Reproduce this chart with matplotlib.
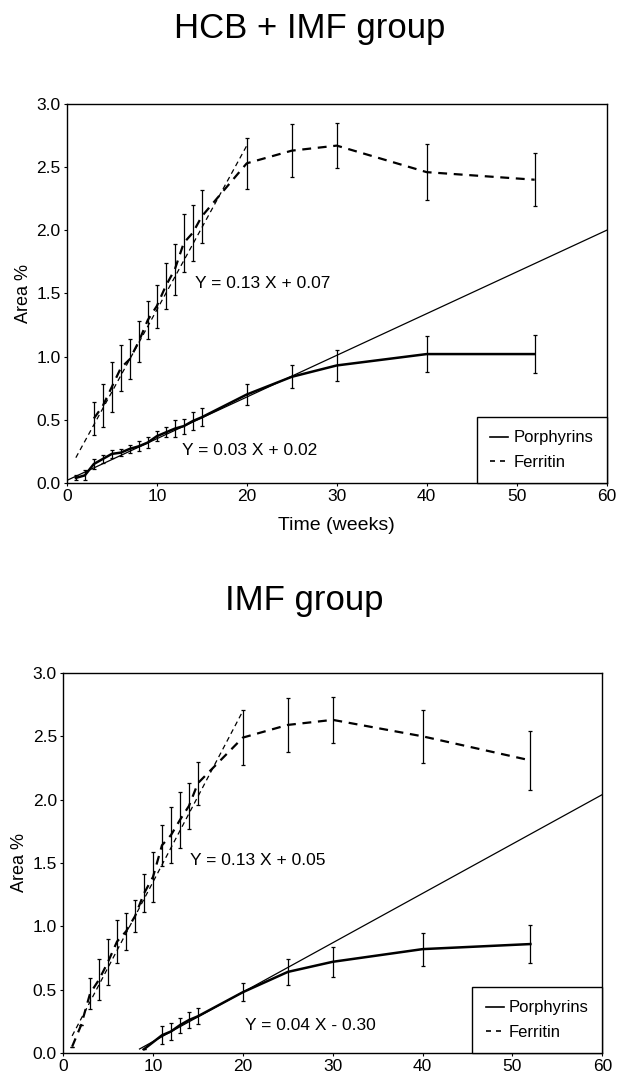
import numpy as np
import matplotlib
matplotlib.use("Agg")
import matplotlib.pyplot as plt
from matplotlib.lines import Line2D

plt.rcParams['font.family'] = ['Liberation Sans', 'DejaVu Sans']

# HCB + IMF group
hcb_fer_weeks = [3, 4, 5, 6, 7, 8, 9, 10, 11, 12, 13, 14, 15, 20, 25, 30, 40, 52]
hcb_fer_vals = [0.51, 0.61, 0.76, 0.91, 0.98, 1.12, 1.29, 1.40, 1.56, 1.69, 1.90, 1.98, 2.11, 2.53, 2.63, 2.67, 2.46, 2.40]
hcb_fer_err = [0.13, 0.17, 0.20, 0.18, 0.16, 0.16, 0.15, 0.17, 0.18, 0.20, 0.23, 0.22, 0.21, 0.20, 0.21, 0.18, 0.22, 0.21]
hcb_por_weeks = [1, 2, 3, 4, 5, 6, 7, 8, 9, 10, 11, 12, 13, 14, 15, 20, 25, 30, 40, 52]
hcb_por_vals = [0.04, 0.06, 0.15, 0.19, 0.23, 0.24, 0.27, 0.29, 0.32, 0.37, 0.40, 0.43, 0.45, 0.49, 0.52, 0.70, 0.84, 0.93, 1.02, 1.02]
hcb_por_err = [0.02, 0.04, 0.04, 0.03, 0.03, 0.03, 0.03, 0.04, 0.04, 0.04, 0.04, 0.07, 0.06, 0.07, 0.07, 0.08, 0.09, 0.12, 0.14, 0.15]
hcb_fer_fit = (0.13, 0.07, 1, 20)     # slope, intercept, x from, x to
hcb_por_fit = (0.033, 0.02, 0, 60)

# IMF group
imf_fer_weeks = [1, 2, 3, 4, 5, 6, 7, 8, 9, 10, 11, 12, 13, 14, 15, 20, 25, 30, 40, 52]
imf_fer_vals = [0.05, 0.22, 0.47, 0.58, 0.72, 0.88, 0.96, 1.08, 1.26, 1.39, 1.64, 1.72, 1.84, 1.95, 2.13, 2.49, 2.59, 2.63, 2.50, 2.31]
imf_fer_err = [0, 0, 0.125, 0.16, 0.18, 0.17, 0.145, 0.125, 0.15, 0.20, 0.16, 0.22, 0.22, 0.18, 0.17, 0.22, 0.21, 0.18, 0.21, 0.23]
imf_por_weeks = [9, 11, 12, 13, 14, 15, 20, 25, 30, 40, 52]
imf_por_vals = [0.03, 0.14, 0.17, 0.22, 0.26, 0.29, 0.48, 0.64, 0.72, 0.82, 0.86]
imf_por_err = [0, 0.07, 0.065, 0.06, 0.065, 0.065, 0.07, 0.10, 0.12, 0.13, 0.15]
imf_fer_fit = (0.135, 0.0, 1, 20)
imf_por_fit = (0.039, -0.30, 8.5, 60)

y_ticks = [0.0, 0.5, 1.0, 1.5, 2.0, 2.5, 3.0]
x_ticks = [0, 10, 20, 30, 40, 50, 60]

DASH = (0, (4, 3))


def draw_panel(ax, fer, por, fer_fit, por_fit, eq_fer, eq_por):
    fw, fv, fe = fer
    pw, pv, pe = por
    # regression lines (thin)
    x = np.array([fer_fit[2], fer_fit[3]])
    ax.plot(x, fer_fit[0] * x + fer_fit[1], color='black', lw=0.9, ls=DASH)
    x = np.array([por_fit[2], por_fit[3]])
    ax.plot(x, por_fit[0] * x + por_fit[1], color='black', lw=0.9)
    # data lines with error bars
    ax.errorbar(pw, pv, yerr=pe, color='black', lw=1.8, elinewidth=0.9,
                capsize=1.5, capthick=0.9)
    ax.errorbar(fw, fv, yerr=fe, color='black', lw=1.6, ls=DASH,
                elinewidth=0.9, capsize=1.5, capthick=0.9)
    ax.text(eq_fer[1][0], eq_fer[1][1], eq_fer[0], fontsize=12.5, va='center')
    ax.text(eq_por[1][0], eq_por[1][1], eq_por[0], fontsize=12.5, va='center')

    ax.set_xlim(0, 60)
    ax.set_ylim(0, 3)
    ax.set_xticks(x_ticks)
    ax.set_yticks(y_ticks)
    ax.set_yticklabels([f'{v:.1f}' for v in y_ticks])
    ax.tick_params(labelsize=12.5, length=2, width=0.8, pad=2.5)
    ax.set_ylabel('Area %', fontsize=13, labelpad=3)
    for s in ax.spines.values():
        s.set_linewidth(1.0)

    handles = [Line2D([], [], color='black', lw=1.2),
               Line2D([], [], color='black', lw=1.2, ls=(0, (3, 3)))]
    leg = ax.legend(handles, ['Porphyrins', 'Ferritin'], loc='lower right',
                    fontsize=12, handlelength=1.1, handletextpad=0.3,
                    fancybox=False, edgecolor='black', borderpad=0.8,
                    labelspacing=0.55, borderaxespad=0, framealpha=1)
    leg.get_frame().set_linewidth(1.0)


fig = plt.figure(figsize=(6.19, 10.78), dpi=100)

ax1 = fig.add_axes([0.108, 0.552, 0.872, 0.3516])
draw_panel(ax1, (hcb_fer_weeks, hcb_fer_vals, hcb_fer_err),
           (hcb_por_weeks, hcb_por_vals, hcb_por_err),
           hcb_fer_fit, hcb_por_fit,
           ('Y = 0.13 X + 0.07', (14.2, 1.58)),
           ('Y = 0.03 X + 0.02', (12.8, 0.26)))
ax1.set_xlabel('Time (weeks)', fontsize=14, labelpad=9)

ax2 = fig.add_axes([0.102, 0.0232, 0.871, 0.3525])
draw_panel(ax2, (imf_fer_weeks, imf_fer_vals, imf_fer_err),
           (imf_por_weeks, imf_por_vals, imf_por_err),
           imf_fer_fit, imf_por_fit,
           ('Y = 0.13 X + 0.05', (14.1, 1.52)),
           ('Y = 0.04 X - 0.30', (20.2, 0.22)))

fig.text(0.501, 0.9647, 'HCB + IMF group', ha='center', va='baseline', fontsize=25)
fig.text(0.491, 0.4341, 'IMF group', ha='center', va='baseline', fontsize=25)

fig.savefig('out.png', dpi=100)
